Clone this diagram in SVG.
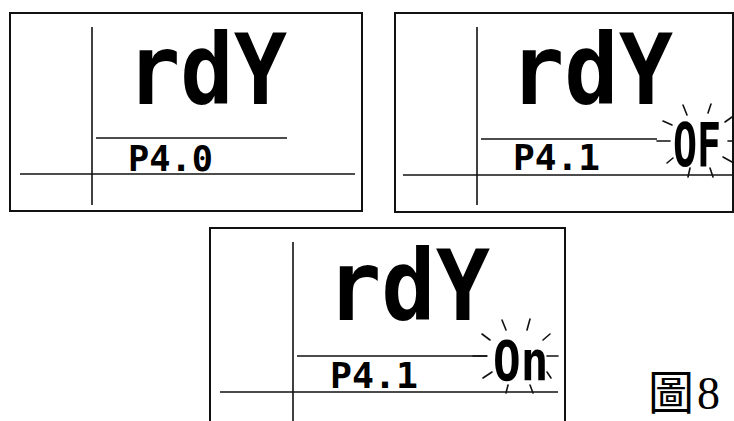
<svg xmlns="http://www.w3.org/2000/svg" width="734" height="421" viewBox="0 0 734 421">
<style>
.frame{fill:none;stroke:#111;stroke-width:2}
.ln{stroke:#111;stroke-width:1.6;fill:none}
.ray{stroke:#111;stroke-width:1.6;stroke-linecap:round}
.big{font-family:"DejaVu Sans Mono","Liberation Mono",monospace;font-weight:bold;font-size:98px;fill:#000}
.small{font-family:"DejaVu Sans Mono","Liberation Mono",monospace;font-weight:bold;font-size:36px;fill:#000}
.flash{font-family:"DejaVu Sans Mono","Liberation Mono",monospace;font-weight:bold;font-size:40px;fill:#000}
.cap{font-family:"Liberation Serif","Noto Sans CJK TC",serif;font-size:46px;fill:#000}
</style>
<rect width="734" height="421" fill="#fff"/>
<g id="panel1">
<rect class="frame" x="10" y="13" width="352" height="198"/>
<line class="ln" x1="92" y1="27" x2="92" y2="205"/>
<line class="ln" x1="96" y1="138" x2="287" y2="138"/>
<line class="ln" x1="20" y1="174" x2="355" y2="174"/>
<text class="big" x="127" y="104" textLength="160" lengthAdjust="spacingAndGlyphs">rdY</text>
<text class="small" x="128" y="171" textLength="85" lengthAdjust="spacingAndGlyphs">P4.0</text>
</g>
<g id="panel2">
<rect class="frame" x="395" y="13" width="338" height="199"/>
<line class="ln" x1="477" y1="27" x2="477" y2="205"/>
<line class="ln" x1="481" y1="139" x2="657" y2="139"/>
<line class="ln" x1="403" y1="175" x2="734" y2="175"/>
<text class="big" x="510" y="104" textLength="163" lengthAdjust="spacingAndGlyphs">rdY</text>
<text class="small" x="513" y="170" textLength="87" lengthAdjust="spacingAndGlyphs">P4.1</text>
<text class="flash" transform="translate(673,166) scale(1,1.5)">OF</text>
<g>
<line class="ray" x1="657" y1="141" x2="670" y2="141"/>
<line class="ray" x1="728" y1="141" x2="734" y2="141"/>
<line class="ray" x1="683" y1="105" x2="687" y2="115"/>
<line class="ray" x1="711" y1="104" x2="708" y2="113"/>
<line class="ray" x1="663" y1="121" x2="672" y2="125"/>
<line class="ray" x1="732" y1="117" x2="725" y2="122"/>
<line class="ray" x1="667" y1="163" x2="673" y2="158"/>
<line class="ray" x1="690" y1="168" x2="688" y2="177"/>
<line class="ray" x1="710" y1="168" x2="713" y2="177"/>
<line class="ray" x1="723" y1="157" x2="732" y2="162"/>
</g>
</g>
<g id="panel3">
<rect class="frame" x="210" y="228" width="355" height="200"/>
<line class="ln" x1="293" y1="242" x2="293" y2="421"/>
<line class="ln" x1="297" y1="356" x2="487" y2="356"/>
<line class="ln" x1="220" y1="392" x2="558" y2="392"/>
<text class="big" x="327" y="320" textLength="163" lengthAdjust="spacingAndGlyphs">rdY</text>
<text class="small" x="330" y="388" textLength="88" lengthAdjust="spacingAndGlyphs">P4.1</text>
<text class="flash" transform="translate(493,380) scale(1.15,1.4)">On</text>
<g>
<line class="ray" x1="473" y1="356" x2="487" y2="356"/>
<line class="ray" x1="547" y1="356" x2="558" y2="356"/>
<line class="ray" x1="502" y1="320" x2="506" y2="330"/>
<line class="ray" x1="530" y1="319" x2="527" y2="330"/>
<line class="ray" x1="482" y1="334" x2="490" y2="340"/>
<line class="ray" x1="550" y1="334" x2="543" y2="340"/>
<line class="ray" x1="483" y1="378" x2="492" y2="372"/>
<line class="ray" x1="508" y1="385" x2="506" y2="393"/>
<line class="ray" x1="530" y1="385" x2="533" y2="393"/>
<line class="ray" x1="547" y1="372" x2="551" y2="378"/>
</g>
</g>
<g id="caption">
<text class="cap" x="648" y="409" letter-spacing="3">圖8</text>
</g>
</svg>
